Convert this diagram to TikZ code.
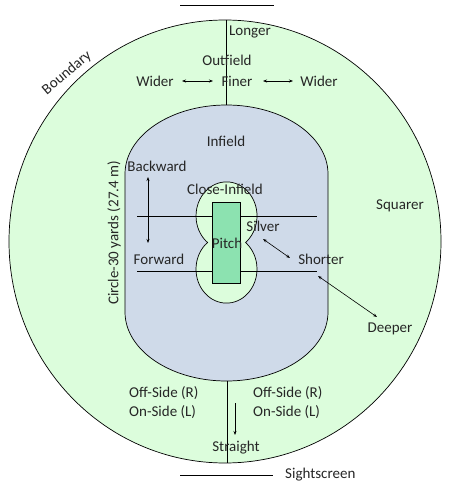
\documentclass[tikz,border=0pt]{standalone}
\usepackage{fontspec}
\setmainfont{Carlito}
\usetikzlibrary{arrows.meta}
\definecolor{outgreen}{RGB}{220,253,220}
\definecolor{infieldblue}{RGB}{207,218,233}
\definecolor{pitchgreen}{RGB}{140,226,176}
\begin{document}
\begin{tikzpicture}[x=1pt,y=-1pt,
  lbl/.style={font=\fontsize{15}{17}\selectfont, inner sep=0pt, text=black!85},
  ln/.style={line width=0.7pt},
  dbl/.style={{Stealth[length=4pt,width=3pt]}-{Stealth[length=4pt,width=3pt]}, line width=0.6pt},
  sgl/.style={-{Stealth[length=4pt,width=3pt]}, line width=0.6pt}]
\useasboundingbox (0,0) rectangle (451,487);
\fill[white] (0,0) rectangle (451,487);
% boundary
\draw[ln, fill=outgreen] (225,241.5) ellipse [x radius=216, y radius=221.5];
% sightscreen lines
\coordinate (ttl) at (180,5); \coordinate (ttr) at (274,5);
\coordinate (btl) at (180,475); \coordinate (btr) at (273,475);
\draw[ln] (ttl) -- (ttr);
\draw[ln] (btl) -- (btr);
% vertical lines
\coordinate (vt1) at (226,20); \coordinate (vt2) at (226,106);
\coordinate (vb1) at (227,380); \coordinate (vb2) at (227,463);
\draw[ln] (vt1) -- (vt2);
\draw[ln] (vb1) -- (vb2);
% infield
\draw[ln, fill=infieldblue] (125,174) arc[start angle=180, end angle=360, x radius=101.5, y radius=69]
  -- (328,312) arc[start angle=0, end angle=180, x radius=101.5, y radius=69] -- cycle;
% close infield
\draw[ln, fill=outgreen] (245.5,242.5) arc[start angle=51.5, end angle=-231.5, x radius=30.5, y radius=34]
  arc[start angle=231.5, end angle=-51.5, x radius=30.5, y radius=34] -- cycle;
% crease lines
\coordinate (h1l) at (137,216); \coordinate (h1r) at (317,216);
\coordinate (h2l) at (137,271); \coordinate (h2r) at (317,271);
\draw[ln] (h1l) -- (h1r);
\draw[ln] (h2l) -- (h2r);
% pitch
\draw[ln, fill=pitchgreen] (212,202) rectangle (240,283);
% labels
\node[lbl] (longer) at (250,32) {Longer};
\node[lbl] (outfield) at (227,60) {Outfield};
\node[lbl] (widerl) at (155,81) {Wider};
\node[lbl] (finer) at (237,81) {Finer};
\node[lbl] (widerr) at (319,81) {Wider};
\node[lbl] (infield) at (226,141) {Infield};
\node[lbl] (backward) at (157,166) {Backward};
\node[lbl] (close) at (225,189) {Close-Infield};
\node[lbl] (silver) at (263,226) {Silver};
\node[lbl] (pitch) at (227,243) {Pitch};
\node[lbl] (forward) at (159,259) {Forward};
\node[lbl] (shorter) at (321,259) {Shorter};
\node[lbl] (squarer) at (400,206) {Squarer};
\node[lbl] (deeper) at (390,329) {Deeper};
\node[lbl, rotate=90] (circle) at (114,233) {Circle-30 yards (27.4 m)};
\node[lbl, rotate=40] (boundary) at (67,73) {Boundary};
\node[lbl, anchor=west] (offl) at (129,393) {Off-Side (R)};
\node[lbl, anchor=west] (onl) at (129,412) {On-Side (L)};
\node[lbl, anchor=west] (offr) at (253,393) {Off-Side (R)};
\node[lbl, anchor=west] (onr) at (253,412) {On-Side (L)};
\node[lbl] (straight) at (236,448) {Straight};
\node[lbl, anchor=west] (sight) at (285,475) {Sightscreen};
% arrows
\coordinate (bf1) at (148,177); \coordinate (bf2) at (148,243);
\draw[dbl] (bf1) -- (bf2);
\coordinate (ss1) at (263,239); \coordinate (ss2) at (290,258);
\draw[dbl] (ss1) -- (ss2);
\coordinate (sd1) at (318,276); \coordinate (sd2) at (377,317);
\draw[dbl] (sd1) -- (sd2);
\coordinate (st1) at (235,403); \coordinate (st2) at (235,435);
\draw[sgl] (st1) -- (st2);
\coordinate (wl1) at (182,81); \coordinate (wl2) at (213,81);
\draw[dbl] (wl1) -- (wl2);
\coordinate (wr1) at (263,81); \coordinate (wr2) at (293,81);
\draw[dbl] (wr1) -- (wr2);
\end{tikzpicture}
\end{document}
